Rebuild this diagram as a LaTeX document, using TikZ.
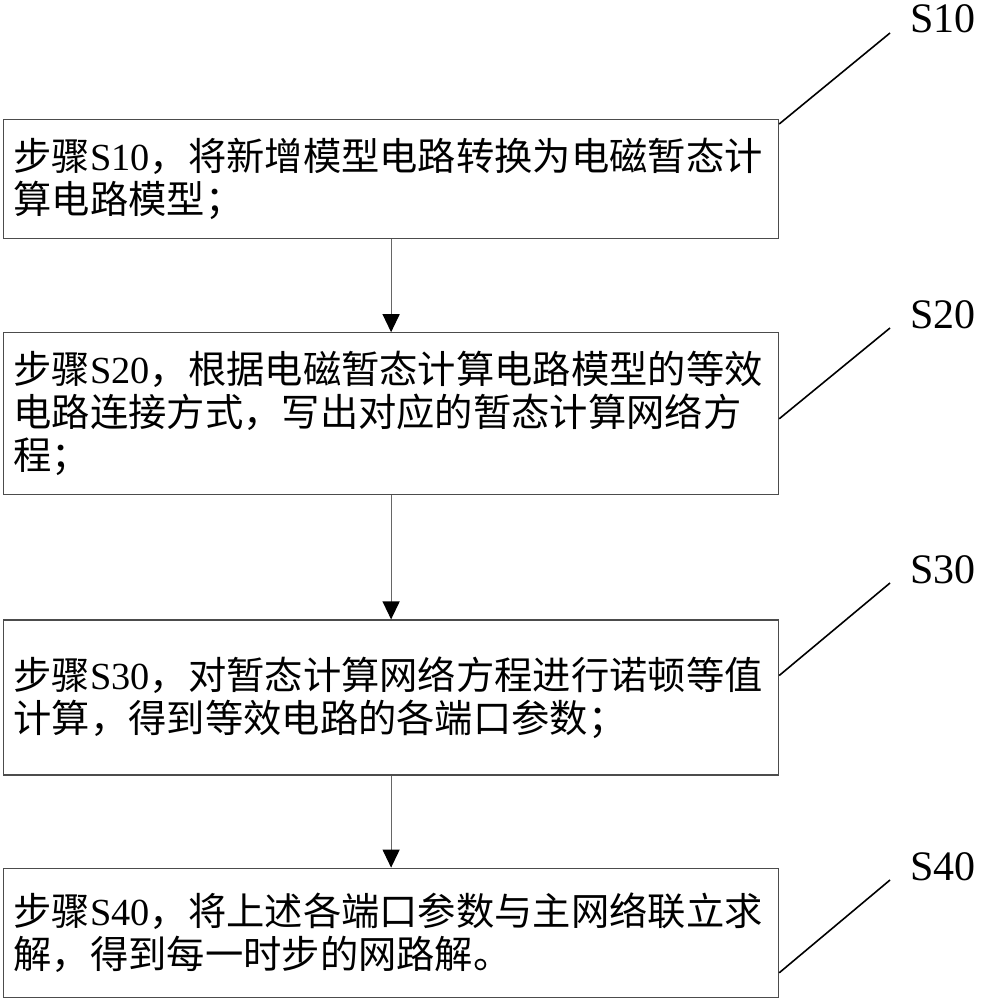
\documentclass[tikz,border=0pt]{standalone}
\usepackage{fontspec}
\setmainfont{Liberation Serif}
\newfontfamily\cjk{Noto Sans CJK SC}
\usetikzlibrary{arrows.meta, positioning, calc}

\begin{document}
\begin{tikzpicture}[x=1pt, y=1pt,
    stepbox/.style={rectangle, draw=black!70, line width=1.2pt, text width=755pt,
                    inner xsep=10pt, inner ysep=0pt, align=left,
                    font=\cjk\fontsize{38.3}{43}\selectfont},
    tag/.style={inner sep=0pt, font=\fontsize{42}{48}\selectfont},
    lead/.style={line width=1.6pt},
    flow/.style={-{Triangle[length=18pt, width=17pt, color=black]}, draw=black!60, line width=1.2pt}
]
\useasboundingbox (0,0) rectangle (981,-1000);
% steps
\node[stepbox, minimum height=119pt, anchor=north west] (b1) at (3,-119)
    {步骤{\rmfamily S10}，将新增模型电路转换为电磁暂态计\\算电路模型；};
\node[stepbox, minimum height=162pt, below=93pt of b1] (b2)
    {步骤{\rmfamily S20}，根据电磁暂态计算电路模型的等效\\电路连接方式，写出对应的暂态计算网络方\\程；};
\node[stepbox, minimum height=155pt, below=124pt of b2] (b3)
    {步骤{\rmfamily S30}，对暂态计算网络方程进行诺顿等值\\计算，得到等效电路的各端口参数；};
\node[stepbox, minimum height=129pt, below=92pt of b3] (b4)
    {步骤{\rmfamily S40}，将上述各端口参数与主网络联立求\\解，得到每一时步的网路解。};
% tags
\node[tag, anchor=base west] (s10) at (910,-33) {S10};
\node[tag, anchor=base west] (s20) at (910,-328) {S20};
\node[tag, anchor=base west] (s30) at (910,-583) {S30};
\node[tag, anchor=base west] (s40) at (910,-880) {S40};
\draw[flow] (b1) -- (b2);
\draw[flow] (b2) -- (b3);
\draw[flow] (b3) -- (b4);
\draw[lead] ($(b1.north east)+(0,-5)$) -- ($(s10.base west)+(-20,0)$);
\draw[lead] ($(b2.east)+(0,-5)$) -- ($(s20.base west)+(-20,0)$);
\draw[lead] ($(b3.east)+(0,22)$) -- ($(s30.base west)+(-20,0)$);
\draw[lead] ($(b4.south east)+(0,25)$) -- ($(s40.base west)+(-20,0)$);
\end{tikzpicture}
\end{document}
